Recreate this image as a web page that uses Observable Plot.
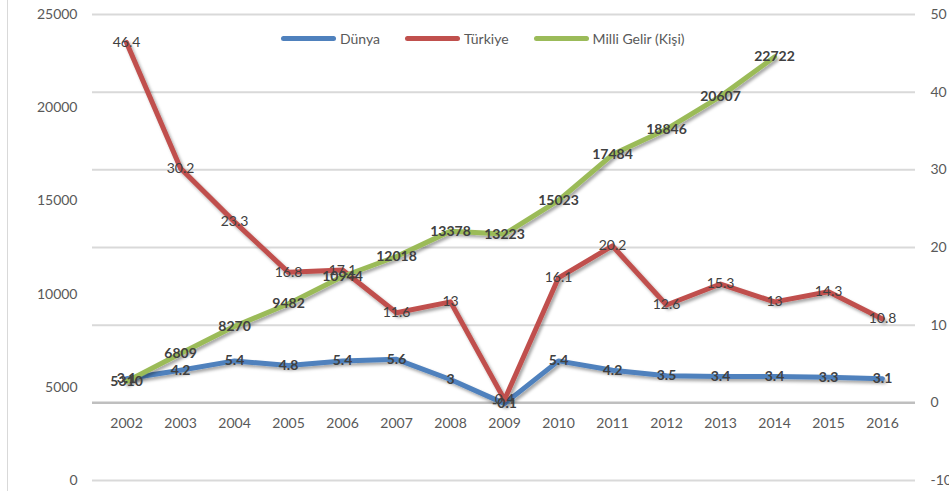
<!DOCTYPE html>
<html><head><meta charset="utf-8">
<script src="https://cdn.jsdelivr.net/npm/d3@7"></script>
<script src="https://cdn.jsdelivr.net/npm/@observablehq/plot@0.6"></script>
<style>
body{margin:0;background:#fff;}
#wrap{position:relative;width:949px;height:491px;font-family:Lato,"Open Sans",sans-serif;overflow:hidden;}
#chart{position:absolute;left:0;top:0;}
#legend{position:absolute;top:28px;left:281px;display:flex;align-items:center;font-size:14px;color:#595959;}
.item{display:flex;align-items:center;margin-right:25px;height:20px;}
.sw{width:55px;height:5px;border-radius:3px;margin-right:4px;}
#border{position:absolute;left:7px;top:0;bottom:0;border-left:1.5px solid #d9d9d9;}
</style></head><body>
<div id="wrap"><div id="border"></div><div id="chart"></div><div id="legend"></div></div>
<script>
const years = ["2002","2003","2004","2005","2006","2007","2008","2009","2010","2011","2012","2013","2014","2015","2016"];
const dunya = [3.1, 4.2, 5.4, 4.8, 5.4, 5.6, 3, -0.1, 5.4, 4.2, 3.5, 3.4, 3.4, 3.3, 3.1];
const turkiye = [46.4, 30.2, 23.3, 16.8, 17.1, 11.6, 13, 0.4, 16.1, 20.2, 12.6, 15.3, 13, 14.3, 10.8];
const milliGelir = [5310, 6809, 8270, 9482, 10944, 12018, 13378, 13223, 15023, 17484, 18846, 20607, 22722, null, null];
const leftTicks = [0, 5000, 10000, 15000, 20000, 25000];
const rightTicks = [-10, 0, 10, 20, 30, 40, 50];
const seriesNames = ["Dünya", "Türkiye", "Milli Gelir (Kişi)"];
const seriesColors = ["#4f81bd", "#c0504d", "#9bbb59"];

// secondary (right) axis domain [-10, 50] mapped onto primary domain [0, 25000]
const leftDomain = [0, 25000], rightDomain = [-10, 50];
const r2l = v => leftDomain[0] + (v - rightDomain[0]) * (leftDomain[1] - leftDomain[0]) / (rightDomain[1] - rightDomain[0]);
const l2r = v => rightDomain[0] + (v - leftDomain[0]) * (rightDomain[1] - rightDomain[0]) / (leftDomain[1] - leftDomain[0]);

const rowsD = years.map((y, i) => ({year: y, v: dunya[i]}));
const rowsT = years.map((y, i) => ({year: y, v: turkiye[i]}));
const rowsM = years.map((y, i) => ({year: y, v: milliGelir[i]})).filter(d => d.v != null);

const lineOpts = {strokeWidth: 5, strokeLinecap: "round", strokeLinejoin: "round"};
const txt = "#404040", axisTxt = "#595959";

const chart = Plot.plot({
  width: 949, height: 491,
  marginLeft: 92, marginRight: 34, marginTop: 14, marginBottom: 11,
  style: {fontFamily: "Lato, 'Open Sans', sans-serif", fontSize: "14px", background: "transparent"},
  x: {type: "point", domain: years, padding: 0.5, axis: null},
  y: {domain: leftDomain, axis: null},
  marks: [
    Plot.ruleY(rightTicks.filter(t => t !== 0), {y: d => r2l(d), stroke: "#d9d9d9", strokeWidth: 2}),
    Plot.ruleY([0], {y: d => r2l(d), stroke: "#bfbfbf", strokeWidth: 2.5}),
    Plot.axisY(leftTicks, {anchor: "left", tickSize: 0, tickPadding: 15, tickFormat: d => String(d), label: null, fill: axisTxt, fontSize: 14}),
    Plot.axisY(rightTicks.map(r2l), {anchor: "right", tickSize: 0, tickPadding: 15, tickFormat: v => String(Math.round(l2r(v))), label: null, fill: axisTxt, fontSize: 14}),
    Plot.text(years, {x: d => d, y: () => r2l(0), dy: 21, text: d => d, fill: axisTxt, fontSize: 14}),
    Plot.line(rowsD, {x: "year", y: d => r2l(d.v), stroke: seriesColors[0], ...lineOpts}),
    Plot.line(rowsT, {x: "year", y: d => r2l(d.v), stroke: seriesColors[1], ...lineOpts}),
    Plot.line(rowsM, {x: "year", y: "v", stroke: seriesColors[2], ...lineOpts}),
    Plot.text(rowsD, {x: "year", y: d => r2l(d.v), text: d => String(d.v), fill: txt, fontWeight: "bold", fontSize: 14}),
    Plot.text(rowsT, {x: "year", y: d => r2l(d.v), text: d => String(d.v), fill: txt, fontSize: 14}),
    Plot.text(rowsM, {x: "year", y: "v", text: d => String(d.v), fill: txt, fontWeight: "bold", fontSize: 14})
  ]
});

const ns = "http://www.w3.org/2000/svg";
const defs = document.createElementNS(ns, "defs");
defs.innerHTML = '<filter id="sh" filterUnits="userSpaceOnUse" x="0" y="0" width="949" height="491"><feDropShadow dx="2" dy="2.5" stdDeviation="1.8" flood-color="#000" flood-opacity="0.35"/></filter>';
chart.prepend(defs);
chart.querySelectorAll('g[aria-label="line"]').forEach(g => g.setAttribute("filter", "url(#sh)"));
document.getElementById("chart").appendChild(chart);

const legend = document.getElementById("legend");
seriesNames.forEach((n, i) => {
  const it = document.createElement("div");
  it.className = "item";
  it.innerHTML = `<span class="sw" style="background:${seriesColors[i]}"></span><span>${n}</span>`;
  legend.appendChild(it);
});
</script>
</body></html>
